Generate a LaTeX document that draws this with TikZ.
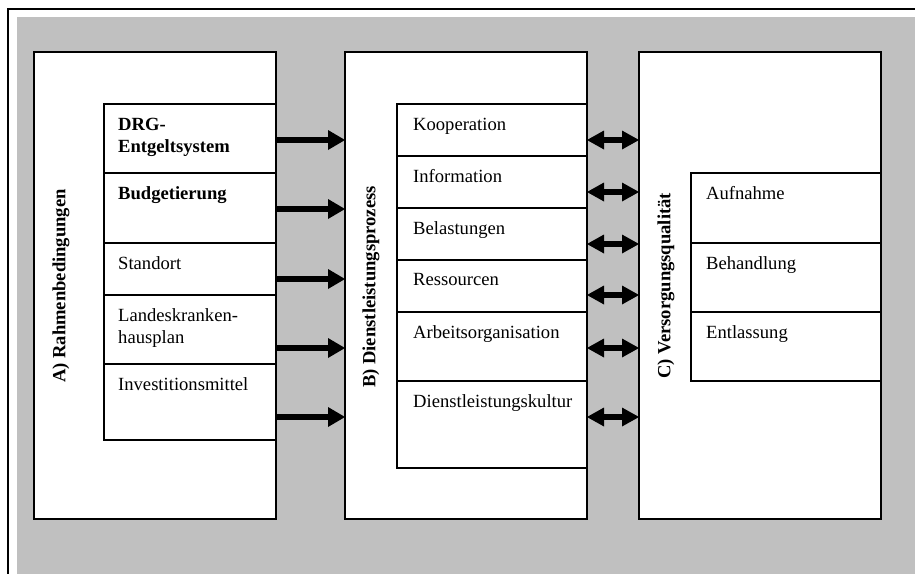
\documentclass[tikz,border=0pt]{standalone}
\usepackage{fontspec}
\setmainfont{Liberation Serif}
\usetikzlibrary{arrows.meta}
\usetikzlibrary{positioning}
\definecolor{panelgrey}{RGB}{192,192,192}

\tikzset{
    colbox/.style={draw, line width=1.5pt, fill=white, anchor=north west, inner sep=0pt, outer sep=0pt,
        minimum width=242pt, minimum height=467pt},
    rowbox/.style={draw, line width=1.5pt, fill=white, anchor=north west, inner sep=0pt, outer sep=0pt},
    rowtext/.style={anchor=north west, inner sep=0pt, align=left, font=\fontsize{18.6}{22}\selectfont},
    colhead/.style={rotate=90, inner sep=0pt, font=\fontsize{18.6}{22}\selectfont\bfseries},
    fatarrow/.style={line width=6pt, -{Triangle[length=17pt, width=20pt, line width=0pt]}},
    dblarrow/.style={line width=6pt,
        {Triangle[length=17pt, width=19pt, line width=0pt]}-{Triangle[length=17pt, width=19pt, line width=0pt]}},
}

\begin{document}
\begin{tikzpicture}[x=1pt, y=-1pt]
        \useasboundingbox (0,0) rectangle (915,574);

        % Frame and grey panel
        \fill[panelgrey] (17,17) rectangle (915,574);
        \draw[line width=2pt] (915,9) -- (8,9) -- (8,574);

        % Three columns
        \node[colbox] (boxA) at (34,52) {};
        \node[colbox] (boxB) at (345,52) {};
        \node[colbox] (boxC) at (639,52) {};

        % A) Rahmenbedingungen
        \node[colhead] (labA) at (61,286) {A) Rahmenbedingungen};

        \node[rowbox, minimum width=172pt, minimum height=69pt] (a1) at (104,104) {};
        \node[rowbox, minimum width=172pt, minimum height=70pt] (a2) at (104,173) {};
        \node[rowbox, minimum width=172pt, minimum height=52pt] (a3) at (104,243) {};
        \node[rowbox, minimum width=172pt, minimum height=69pt] (a4) at (104,295) {};
        \node[rowbox, minimum width=172pt, minimum height=76pt] (a5) at (104,364) {};

        \node[rowtext, font=\fontsize{18.6}{22}\selectfont\bfseries] (a1t) at ([shift={(14,13.5)}]a1.north west) {DRG-\\Entgeltsystem};
        \node[rowtext, font=\fontsize{18.6}{22}\selectfont\bfseries] (a2t) at ([shift={(14,13.5)}]a2.north west) {Budgetierung};
        \node[rowtext] (a3t) at ([shift={(14,13.5)}]a3.north west) {Standort};
        \node[rowtext] (a4t) at ([shift={(14,13.5)}]a4.north west) {Landeskranken-\\hausplan};
        \node[rowtext] (a5t) at ([shift={(14,13.5)}]a5.north west) {Investitionsmittel};

        % B) Dienstleistungsprozess
        \node[colhead] (labB) at (371,287) {B) Dienstleistungsprozess};

        \foreach \nm/\top/\h/\txt in {b1/104/52/Kooperation, b2/156/52/Information,
                b3/208/52/Belastungen, b4/260/52/Ressourcen,
                b5/312/69/Arbeitsorganisation, b6/381/87/Dienstleistungskultur} {
            \node[rowbox, minimum width=190pt, minimum height=\h pt] (\nm) at (397,\top) {};
            \node[rowtext] (\nm t) at ([shift={(16,13.5)}]\nm.north west) {\txt};
        }

        % C) Versorgungsqualitaet
        \node[colhead] (labC) at (666,286) {C) Versorgungsqualität};

        \foreach \nm/\top/\h/\txt in {c1/173/70/Aufnahme, c2/243/69/Behandlung, c3/312/69/Entlassung} {
            \node[rowbox, minimum width=190pt, minimum height=\h pt] (\nm) at (691,\top) {};
            \node[rowtext] (\nm t) at ([shift={(15,13.5)}]\nm.north west) {\txt};
        }

        % Arrows A -> B
        \foreach \y [count=\i] in {140,209,279,348,417} {
            \coordinate (ya\i) at (0,\y);
            \draw[fatarrow] (boxA.east |- ya\i) -- (boxB.west |- ya\i);
        }

        % Arrows B <-> C
        \foreach \y [count=\i] in {140,192,244,295,348,417} {
            \coordinate (yb\i) at (0,\y);
            \draw[dblarrow] (boxB.east |- yb\i) -- (boxC.west |- yb\i);
        }

\end{tikzpicture}
\end{document}
